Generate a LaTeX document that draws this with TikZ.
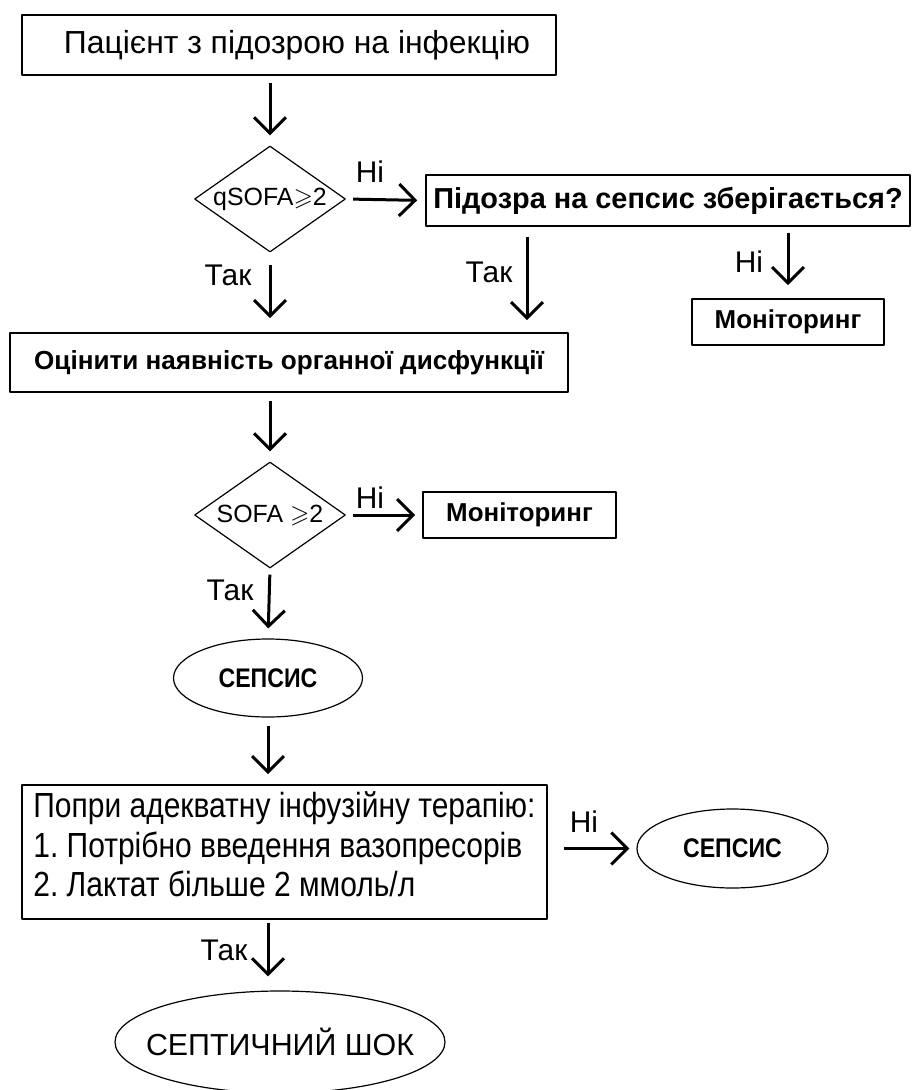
\documentclass[tikz,border=0pt]{standalone}
\usepackage{amssymb}
\usepackage{fontspec}
\setmainfont{Liberation Sans}
\newfontfamily\narrowfont[FakeStretch=0.86]{Liberation Sans}
\usetikzlibrary{positioning,shapes.geometric,arrows.meta}

\begin{document}
\begin{tikzpicture}[>={Straight Barb[length=16bp,width=32bp]},line join=bevel,
  box/.style={draw,line width=1.6bp,inner sep=0pt},
  test/.style={draw,diamond,aspect=1.3,line width=1.2bp,inner sep=0pt,minimum width=151bp,minimum height=106bp,font=\fontsize{25}{30}\selectfont},
  oval/.style={draw,ellipse,line width=1.2bp,inner sep=0pt},
  arr/.style={black,->,line width=3bp,shorten <=7bp,shorten >=10bp},
  lbl/.style={inner sep=0pt,font=\fontsize{30}{34}\selectfont}]
%%
\useasboundingbox (0bp,0bp) rectangle (915bp,-1090bp);
\node (node_patient) at (289bp,-45bp) [box,minimum width=534bp,minimum height=60bp,font=\fontsize{32}{36}\selectfont] {\hspace{16bp}Пацієнт з підозрою на інфекцію};
  \node (node_qsofa) at (270bp,-199bp) [test] {\makebox[100bp]{qSOFA$\geqslant$2}};
  \node (node_suspect) at (668bp,-200.5bp) [box,minimum width=484bp,minimum height=51bp,font=\bfseries\fontsize{29}{32}\selectfont] {Підозра на сепсис зберігається?};
  \node (node_mon_a) at (788bp,-322bp) [box,minimum width=192bp,minimum height=46bp,font=\bfseries\fontsize{26}{30}\selectfont] {Моніторинг};
  \node (node_assess) at (289bp,-362.5bp) [box,minimum width=558bp,minimum height=59bp,font=\bfseries\fontsize{26.2}{30}\selectfont] {Оцінити наявність органної дисфункції};
  \node (node_sofa) at (270bp,-515bp) [test] {\makebox[100bp]{SOFA $\geqslant$2}};
  \node (node_mon_b) at (519.5bp,-515bp) [box,minimum width=193bp,minimum height=46bp,font=\bfseries\fontsize{26}{30}\selectfont] {Моніторинг};
  \node (node_sepsis_a) at (268bp,-678bp) [oval,minimum width=189bp,minimum height=78bp,font=\narrowfont\bfseries\fontsize{27}{30}\selectfont] {СЕПСИС};
  \node (node_therapy) at (284.5bp,-852bp) [box,minimum width=525bp,minimum height=134bp,align=left,font=\narrowfont\frenchspacing\fontsize{35}{40}\selectfont] {Попри адекватну інфузійну терапію:\\1. Потрібно введення вазопресорів\\2. Лактат більше 2 ммоль/л\\[-24bp]\mbox{}};
  \node (node_sepsis_b) at (732.5bp,-848.5bp) [oval,minimum width=191bp,minimum height=79bp,font=\narrowfont\bfseries\fontsize{27}{30}\selectfont] {СЕПСИС};
  \node (node_shock) at (280bp,-1042bp) [oval,minimum width=330bp,minimum height=102bp,font=\fontsize{30.5}{34}\selectfont] {\makebox[220bp]{СЕПТИЧНИЙ ШОК}};
%% labels
  \node (lbl_no_a) at (370bp,-172bp) [lbl] {Ні};
  \node (lbl_yes_a) at (228bp,-275bp) [lbl] {Так};
  \node (lbl_yes_b) at (489bp,-272bp) [lbl] {Так};
  \node (lbl_no_b) at (749bp,-262bp) [lbl] {Ні};
  \node (lbl_no_c) at (370bp,-498bp) [lbl] {Ні};
  \node (lbl_yes_c) at (230bp,-590bp) [lbl] {Так};
  \node (lbl_no_d) at (584bp,-822bp) [lbl] {Ні};
  \node (lbl_yes_d) at (224bp,-950bp) [lbl] {Так};
%% connectors
  \draw [arr] (node_qsofa.north |- node_patient.south) -- (node_qsofa.north);
  \draw [arr,shorten >=8bp] (node_qsofa.east) -- (node_suspect.west);
  \draw [arr,shorten <=12bp,shorten >=14bp] (node_qsofa.south) -- (node_qsofa.south |- node_assess.north);
  \draw [arr,shorten <=10bp,shorten >=12bp] ([xshift=-141bp]node_suspect.south) -- ([xshift=-141bp]node_suspect.south |- node_assess.north);
  \draw [arr,shorten <=6bp,shorten >=13bp] (node_mon_a.north |- node_suspect.south) -- (node_mon_a.north);
  \draw [arr,shorten <=8bp] (node_sofa.north |- node_assess.south) -- (node_sofa.north);
  \draw [arr,shorten >=7bp] (node_sofa.east) -- (node_mon_b.west);
  \draw [arr,shorten <=6bp] (node_sofa.south) -- (node_sepsis_a.north);
  \draw [arr,shorten <=8bp] (node_sepsis_a.south) -- (node_therapy.north -| node_sepsis_a.south);
  \draw [arr,shorten <=16bp,shorten >=7bp] (node_therapy.east |- node_sepsis_b.west) -- (node_sepsis_b.west);
  \draw [arr,shorten <=3bp,shorten >=14bp] (node_sepsis_a.south |- node_therapy.south) -- (node_sepsis_a.south |- node_shock.north);
%
\end{tikzpicture}
\end{document}
